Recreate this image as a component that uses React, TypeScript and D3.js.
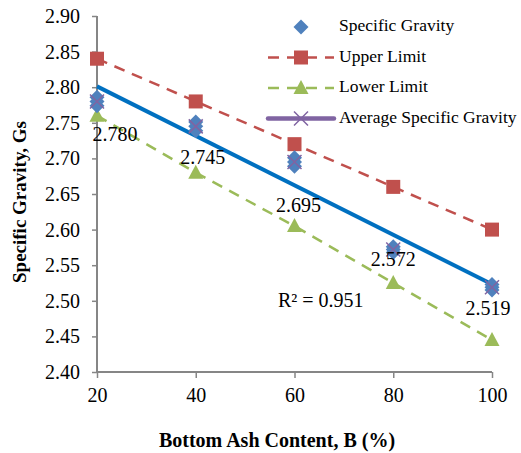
import React, { useEffect, useRef } from 'react';
import * as d3 from 'd3';

// bottom ash content (%)
const ashContent = [20, 40, 60, 80, 100];
// individual specific gravity readings per ash content
const gravityReadings = [
  [2.786, 2.780, 2.774],
  [2.751, 2.745, 2.739],
  [2.701, 2.695, 2.689],
  [2.576, 2.572, 2.568],
  [2.523, 2.519, 2.515],
];
const upperLimit = [2.84, 2.78, 2.72, 2.66, 2.60];
const lowerLimit = [2.76, 2.68, 2.605, 2.525, 2.445];
const averageGravity = [2.780, 2.745, 2.695, 2.572, 2.519];
const averageLabels = ['2.780', '2.745', '2.695', '2.572', '2.519'];
const yTicks = [2.40, 2.45, 2.50, 2.55, 2.60, 2.65, 2.70, 2.75, 2.80, 2.85, 2.90];
const xTicks = [20, 40, 60, 80, 100];
const rSquaredText = 'R² = 0.951';

// label offsets in px (dx, dy) relative to the average point
const labelOffsets = [[18, 35], [7, 33], [4, 45], [0, 12], [-4, 23]];

const W = 521, H = 453;
const margin = { top: 16, right: 29, bottom: 78, left: 97 };
const FONT = '"Liberation Serif", "Times New Roman", serif';

const BLUE = '#4F81BD', RED = '#C0504D', GREEN = '#9BBB59', PURPLE = '#8064A2', TREND = '#0070C0', AXIS = '#868686';

export default function App() {
  const ref = useRef<SVGSVGElement>(null);

  useEffect(() => {
    const svg = d3.select(ref.current);
    svg.selectAll('*').remove();

    const x = d3.scaleLinear().domain([20, 100]).range([margin.left, W - margin.right]);
    const y = d3.scaleLinear().domain([2.4, 2.9]).range([H - margin.bottom - 3, margin.top]);

    // axes
    const yAxis = svg.append('g').attr('transform', `translate(${margin.left},0)`)
      .call(d3.axisLeft(y).tickValues(yTicks).tickFormat(d3.format('.2f')).tickSize(5).tickPadding(12));
    const xAxis = svg.append('g').attr('transform', `translate(0,${y(2.4)})`)
      .call(d3.axisBottom(x).tickValues(xTicks).tickFormat(d3.format('d')).tickSize(6).tickPadding(10));
    [yAxis, xAxis].forEach(g => {
      g.select('.domain').attr('stroke', AXIS).attr('stroke-width', 2);
      g.selectAll('.tick line').attr('stroke', AXIS).attr('stroke-width', 1.5);
      g.selectAll('.tick text').attr('fill', '#000').style('font-family', FONT).style('font-size', '20px');
    });
    yAxis.select('.domain').attr('d', `M0,${y(2.4)}V${y(2.9)}`);
    xAxis.select('.domain').attr('d', `M${x(20)},0H${x(100)}`);

    // linear trend of averages
    const mx = d3.mean(ashContent)!, my = d3.mean(averageGravity)!;
    const slope = d3.sum(ashContent.map((v, i) => (v - mx) * (averageGravity[i] - my))) /
      d3.sum(ashContent.map(v => (v - mx) ** 2));
    const icpt = my - slope * mx;
    svg.append('line')
      .attr('x1', x(20)).attr('y1', y(icpt + slope * 20))
      .attr('x2', x(100)).attr('y2', y(icpt + slope * 100))
      .attr('stroke', TREND).attr('stroke-width', 4);

    const line = d3.line<number>().x((d, i) => x(ashContent[i])).y(d => y(d));

    svg.append('path').datum(upperLimit).attr('d', line).attr('fill', 'none')
      .attr('stroke', RED).attr('stroke-width', 2.5).attr('stroke-dasharray', '11,8');
    svg.append('path').datum(lowerLimit).attr('d', line).attr('fill', 'none')
      .attr('stroke', GREEN).attr('stroke-width', 2.5).attr('stroke-dasharray', '11,8');

    const square = (g: any, cx: number, cy: number) =>
      g.append('rect').attr('x', cx - 7).attr('y', cy - 7).attr('width', 14).attr('height', 14).attr('fill', RED);
    const triangle = (g: any, cx: number, cy: number) =>
      g.append('path').attr('d', `M${cx},${cy - 8}L${cx + 7.5},${cy + 6}L${cx - 7.5},${cy + 6}Z`).attr('fill', GREEN);
    const diamond = (g: any, cx: number, cy: number) =>
      g.append('path').attr('d', `M${cx},${cy - 7.5}L${cx + 7.5},${cy}L${cx},${cy + 7.5}L${cx - 7.5},${cy}Z`).attr('fill', BLUE);
    const cross = (g: any, cx: number, cy: number) =>
      g.append('path').attr('d', `M${cx - 7},${cy - 7}L${cx + 7},${cy + 7}M${cx + 7},${cy - 7}L${cx - 7},${cy + 7}`)
        .attr('stroke', PURPLE).attr('stroke-width', 1.5);

    const marks = svg.append('g');
    upperLimit.forEach((v, i) => square(marks, x(ashContent[i]), y(v)));
    lowerLimit.forEach((v, i) => triangle(marks, x(ashContent[i]), y(v)));
    gravityReadings.forEach((arr, i) => arr.forEach(v => diamond(marks, x(ashContent[i]), y(v))));
    averageGravity.forEach((v, i) => cross(marks, x(ashContent[i]), y(v)));

    // data labels
    averageGravity.forEach((v, i) => {
      svg.append('text')
        .attr('x', x(ashContent[i]) + labelOffsets[i][0])
        .attr('y', y(v) + labelOffsets[i][1])
        .attr('text-anchor', 'middle').attr('dominant-baseline', 'middle')
        .style('font-family', FONT).style('font-size', '20px')
        .text(averageLabels[i]);
    });
    svg.append('text').attr('x', 278).attr('y', 302).attr('dominant-baseline', 'middle')
      .style('font-family', FONT).style('font-size', '20px').text(rSquaredText);

    // legend
    const legend = [
      { name: 'Specific Gravity', kind: 'diamond' },
      { name: 'Upper Limit', kind: 'square' },
      { name: 'Lower Limit', kind: 'triangle' },
      { name: 'Average Specific Gravity', kind: 'cross' },
    ];
    const lg = svg.append('g');
    legend.forEach((d, i) => {
      const ly = 27 + i * 30.5;
      const cx = 301;
      if (d.kind === 'square' || d.kind === 'triangle') {
        lg.append('line').attr('x1', 268).attr('x2', 334).attr('y1', ly).attr('y2', ly)
          .attr('stroke', d.kind === 'square' ? RED : GREEN).attr('stroke-width', 2.5).attr('stroke-dasharray', '11,8');
      }
      if (d.kind === 'cross') {
        lg.append('line').attr('x1', 268).attr('x2', 334).attr('y1', ly).attr('y2', ly)
          .attr('stroke', PURPLE).attr('stroke-width', 4.5).attr('stroke-linecap', 'round');
      }
      if (d.kind === 'diamond') diamond(lg, cx, ly);
      if (d.kind === 'square') square(lg, cx, ly);
      if (d.kind === 'triangle') triangle(lg, cx, ly);
      if (d.kind === 'cross') cross(lg, cx, ly);
      lg.append('text').attr('x', 339).attr('y', ly).attr('dominant-baseline', 'middle')
        .style('font-family', FONT).style('font-size', '17.5px').text(d.name);
    });

    // axis titles
    svg.append('text').attr('x', 277).attr('y', 442)
      .attr('text-anchor', 'middle').attr('dominant-baseline', 'middle')
      .style('font-family', FONT).style('font-size', '20px').style('font-weight', 'bold')
      .text('Bottom Ash Content, B (%)');
    svg.append('text').attr('transform', 'translate(22,202) rotate(-90)')
      .attr('text-anchor', 'middle').attr('dominant-baseline', 'middle')
      .style('font-family', FONT).style('font-size', '19px').style('font-weight', 'bold')
      .text('Specific Gravity, Gs');
  }, []);

  return (
    <svg ref={ref} width={W} height={H}
      style={{ position: 'absolute', left: 0, top: 0, background: '#fff' }} />
  );
}
